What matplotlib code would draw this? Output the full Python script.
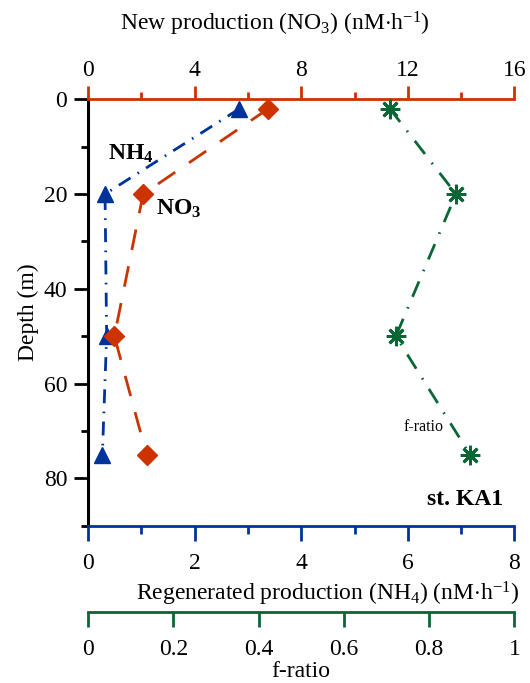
import matplotlib
matplotlib.use("Agg")
from matplotlib import pyplot as plt
from matplotlib.ticker import MultipleLocator, FuncFormatter

plt.rcParams["font.family"] = ["Liberation Serif", "DejaVu Serif"]
plt.rcParams["mathtext.fontset"] = "custom"
plt.rcParams["mathtext.rm"] = "Liberation Serif"
plt.rcParams["mathtext.bf"] = "Liberation Serif:bold"
plt.rcParams["mathtext.it"] = "Liberation Serif:italic"

# data
depth = [2, 20, 50, 75]
nh4 = [2.84, 0.32, 0.35, 0.27]      # regenerated production (nM/h)
no3 = [6.76, 2.07, 0.99, 2.2]       # new production (nM/h)
f_ratio = [0.708, 0.863, 0.722, 0.896]

c_no3 = "#cc3300"
c_nh4 = "#003399"
c_f = "#0a6634"
fs = 17

fig = plt.figure(figsize=(5.3, 6.83), dpi=100)
ax = fig.add_axes([0.166, 0.2303, 0.8046, 0.6243])
ax_top = ax.twiny()
ax_f = ax.twiny()

# NH4 on the main (blue, bottom) axis
ax.plot(nh4, depth, color=c_nh4, lw=2, dashes=(5, 3, 0.6, 3),
        marker="^", ms=11, clip_on=False)
ax.set_xlim(0, 8)
ax.set_ylim(90, 0)

# NO3 on top axis
ax_top.plot(no3, depth, color=c_no3, lw=2, dashes=(7.5, 6),
            marker="D", ms=10, clip_on=False)
ax_top.set_xlim(0, 16)

# f-ratio on offset bottom axis
ax_f.plot(f_ratio, depth, color=c_f, lw=2, dashes=(6, 4, 0.6, 4),
          marker=(8, 2, 0), ms=14, mew=2, clip_on=False)
ax_f.plot(f_ratio, depth, ls="none", color=c_f, marker="o", ms=6,
          clip_on=False)
ax_f.set_xlim(0, 1)

# spines
for s in ["top", "right"]:
    ax.spines[s].set_visible(False)
ax.spines["left"].set_color("black")
ax.spines["left"].set_linewidth(2.2)
ax.spines["bottom"].set_color(c_nh4)
ax.spines["bottom"].set_linewidth(2)

for s in ["bottom", "left", "right"]:
    ax_top.spines[s].set_visible(False)
ax_top.spines["top"].set_color(c_no3)
ax_top.spines["top"].set_linewidth(2)

for s in ["top", "left", "right"]:
    ax_f.spines[s].set_visible(False)
ax_f.xaxis.set_ticks_position("bottom")
ax_f.xaxis.set_label_position("bottom")
ax_f.spines["bottom"].set_position(("outward", 62))
ax_f.spines["bottom"].set_color(c_f)
ax_f.spines["bottom"].set_linewidth(2)

# ticks
ax.yaxis.set_major_locator(MultipleLocator(20))
ax.yaxis.set_minor_locator(MultipleLocator(10))
ax.tick_params(axis="y", which="major", length=10, width=2, pad=5,
               labelsize=fs, color="black")
ax.tick_params(axis="y", which="minor", length=5, width=2, color="black")

ax.xaxis.set_major_locator(MultipleLocator(2))
ax.xaxis.set_minor_locator(MultipleLocator(1))
ax.tick_params(axis="x", which="major", direction="out", length=10.5,
               width=2, pad=9, labelsize=fs, color=c_nh4)
ax.tick_params(axis="x", which="minor", direction="out", length=5.5,
               width=2, color=c_nh4)

ax_top.xaxis.set_major_locator(MultipleLocator(4))
ax_top.xaxis.set_minor_locator(MultipleLocator(2))
ax_top.tick_params(axis="x", which="major", direction="out", length=9.5,
                   width=2, pad=4, labelsize=fs, color=c_no3)
ax_top.tick_params(axis="x", which="minor", direction="out", length=5,
                   width=2, color=c_no3)

ax_f.xaxis.set_major_locator(MultipleLocator(0.2))
ax_f.xaxis.set_major_formatter(FuncFormatter(lambda v, p: f"{v:g}"))
ax_f.tick_params(axis="x", which="major", direction="out", length=10.5,
                 width=2, pad=9, labelsize=fs, color=c_f)

# axis labels
ax_top.set_xlabel(r"New production (NO$_3$) (nM$\cdot$h$^{\mathregular{-1}}$)",
                  fontsize=fs)
ax_top.xaxis.set_label_coords(0.438, 1.162)
ax.set_xlabel(r"Regenerated production (NH$_4$) (nM$\cdot$h$^{\mathregular{-1}}$)",
              fontsize=fs)
ax.xaxis.set_label_coords(0.563, -0.128)
ax_f.set_xlabel("f-ratio", fontsize=fs)
ax_f.xaxis.set_label_coords(0.5, -0.318)
ax.set_ylabel("Depth (m)", fontsize=fs)
ax.yaxis.set_label_coords(-0.115, 0.5)

# annotations
ax.text(0.375, 12.8, r"NH$_\mathbf{4}$", fontsize=fs, fontweight="bold",
        ha="left", va="baseline")
ax.text(1.276, 24.4, r"NO$_\mathbf{3}$", fontsize=fs, fontweight="bold",
        ha="left", va="baseline")
ax_f.text(0.739, 70.1, "f-ratio", fontsize=11.5, ha="left", va="baseline")
ax_f.text(0.795, 85.6, "st. KA1", fontsize=17, fontweight="bold",
          ha="left", va="baseline")

fig.savefig("out.png", dpi=100)
